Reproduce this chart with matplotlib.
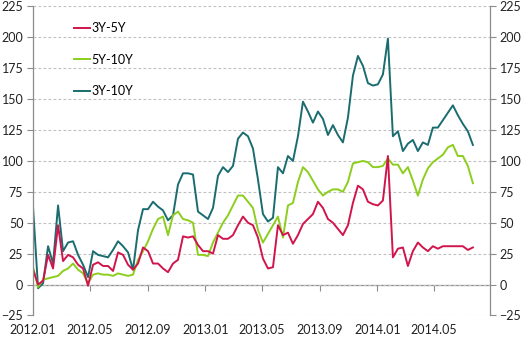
import numpy as np
import pandas as pd
import matplotlib
matplotlib.use("Agg")
import matplotlib.pyplot as plt
import matplotlib.dates as mdates

# ------------------------------------------------------------
# data (spreads, bp), ~10-day sampling
# ------------------------------------------------------------

start_date = "2012-01-01"
end_date = "2014-07-23"

spread_3y10y = [
    62, -3, 1, 31, 17, 64, 27, 34, 35, 24,
    16, 6, 27, 24, 23, 22, 28, 35, 31, 26,
    12, 44, 61, 61, 67, 63, 60, 52, 56, 81,
    90, 90, 89, 59, 56, 53, 62, 88, 95, 91,
    96, 118, 123, 120, 110, 85, 57, 51, 54, 95,
    90, 104, 100, 120, 148, 140, 131, 140, 134, 121,
    129, 121, 115, 135, 169, 185, 177, 163, 161, 162,
    170, 199, 120, 124, 108, 114, 117, 108, 115, 113,
    127, 127, 133, 139, 145, 137, 130, 124, 113,
]

spread_5y10y = [
    14, -2, 4, 5, 6, 7, 11, 13, 17, 12,
    9, 1, 8, 9, 8, 8, 7, 9, 8, 7,
    8, 20, 27, 35, 45, 53, 55, 40, 56, 59,
    53, 52, 50, 24, 24, 23, 34, 42, 50, 56,
    64, 72, 72, 67, 62, 44, 34, 41, 48, 55,
    38, 64, 66, 83, 95, 91, 84, 77, 72, 75,
    77, 77, 75, 83, 98, 99, 100, 99, 95, 95,
    96, 102, 97, 97, 90, 95, 84, 72, 85, 94,
    99, 102, 105, 111, 113, 104, 104, 96, 82,
]

spread_3y5y = [
    12, 0, 3, 24, 13, 48, 19, 24, 22, 16,
    13, -1, 16, 18, 15, 15, 11, 26, 24, 16,
    12, 17, 30, 27, 17, 17, 13, 10, 17, 20,
    39, 38, 39, 32, 27, 27, 25, 40, 37, 37,
    40, 48, 55, 50, 48, 38, 21, 13, 14, 48,
    40, 42, 33, 40, 49, 53, 57, 67, 62, 53,
    50, 45, 40, 48, 66, 80, 77, 67, 65, 64,
    68, 104, 22, 29, 30, 15, 27, 34, 30, 27,
    31, 29, 31, 31, 31, 31, 31, 28, 30,
]

dates = pd.date_range(start_date, end_date, periods=len(spread_3y10y))

# ------------------------------------------------------------
# style
# ------------------------------------------------------------

plt.rcParams["font.family"] = ["Lato", "DejaVu Sans"]
plt.rcParams["font.size"] = 9

RED = "#D0154C"
GREEN = "#8CCE1E"
TEAL = "#1A6C6F"
AXIS_GREY = "#8C8C8C"
GRID_GREY = "#C0C0C0"

fig = plt.figure(figsize=(5.25, 3.41), dpi=100)
ax = fig.add_axes([0.063, 0.075, 0.870, 0.906])

l_teal, = ax.plot(dates, spread_3y10y, color=TEAL, lw=1.4, label="3Y-10Y")
l_green, = ax.plot(dates, spread_5y10y, color=GREEN, lw=1.4, label="5Y-10Y")
l_red, = ax.plot(dates, spread_3y5y, color=RED, lw=1.4, label="3Y-5Y")

ax.set_ylim(-25, 225)
ax.set_yticks(np.arange(-25, 226, 25))
ax.set_xlim(pd.Timestamp("2012-01-01"), pd.Timestamp("2014-08-28"))

ax.xaxis.set_major_locator(mdates.MonthLocator(bymonth=[1, 5, 9]))
ax.xaxis.set_major_formatter(mdates.DateFormatter("%Y.%m"))

ax.grid(axis="y", color=GRID_GREY, linestyle=(0, (2.5, 2)), linewidth=0.8)
ax.set_axisbelow(True)

for side in ["top", "bottom"]:
    ax.spines[side].set_visible(False)
for side in ["left", "right"]:
    ax.spines[side].set_color(AXIS_GREY)
    ax.spines[side].set_linewidth(0.9)

ax.tick_params(axis="y", which="both", left=True, right=True,
               labelleft=True, labelright=True,
               length=4, color=AXIS_GREY, labelsize=9, pad=3,
               labelcolor="#222222")
ax.tick_params(axis="x", length=0, pad=6, labelsize=9, labelcolor="#222222")

# horizontal axis line crossing at zero
sec = ax.secondary_xaxis(0.1)
sec.set_xticks(ax.get_xticks())
sec.tick_params(axis="x", length=4, color=AXIS_GREY, labelbottom=False)
sec.spines["bottom"].set_color(AXIS_GREY)
sec.spines["bottom"].set_linewidth(0.9)

leg = ax.legend(handles=[l_red, l_green, l_teal], loc="upper left",
                bbox_to_anchor=(0.065, 0.985), frameon=False,
                handlelength=1.3, handletextpad=0.1, labelspacing=1.55,
                fontsize=9)

fig.savefig("out.png", dpi=100)
